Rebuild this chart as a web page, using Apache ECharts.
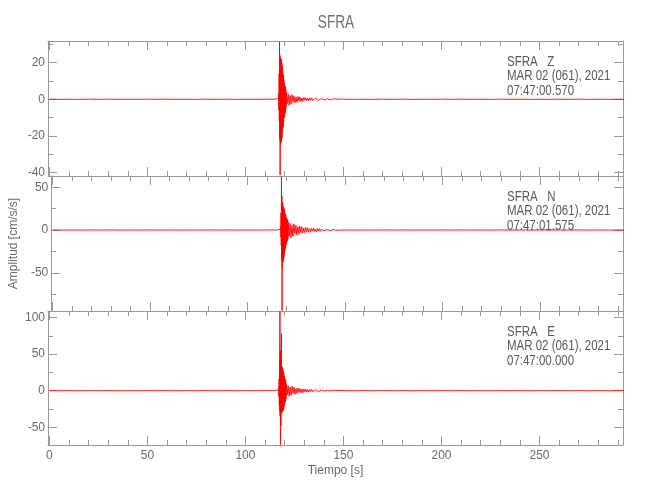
<!DOCTYPE html>
<html><head><meta charset="utf-8">
<script src="https://cdn.jsdelivr.net/npm/echarts@6/dist/echarts.min.js"></script>
<style>html,body{margin:0;padding:0;background:#fff}#c{width:650px;height:500px}</style>
</head><body><div id="c"></div>
<script>
// ---------- text ----------
const titleText = 'SFRA';
const stationName = 'SFRA';
const channels = ['Z', 'N', 'E'];
const dateText = 'MAR 02 (061), 2021';
const startTimes = ['07:47:00.570', '07:47:01.575', '07:47:00.000'];
const xAxisName = 'Tiempo [s]';
const yAxisName = 'Amplitud [cm/s/s]';

// ---------- tick labels ----------
const xMajorTicks = [0, 50, 100, 150, 200, 250];
const xMinorTicks = [10, 20, 30, 40, 60, 70, 80, 90, 110, 120, 130, 140, 160, 170, 180, 190, 210, 220, 230, 240, 260, 270, 280, 290];
const yMajorTicks = [[-40, -20, 0, 20], [-50, 0, 50], [-50, 0, 50, 100]];
const yMinorTicks = [[-30, -10, 10, 30], [-75, -25, 25], [-25, 25, 75]];
const xRange = [-0.7, 292.6];
const yRanges = [[-42, 31.9], [-94.6, 63.1], [-74.3, 109]];

// ---------- waveform samples (start time, sample step, values) ----------
const preStart = 0, preStep = 5;
const burstStart = 116.8, burstStep = 0.1;
const codaStart = 120.8, codaStep = 0.5;
const postStart = 150, postStep = 5;

const zPre = [0.05, -0.04, 0.03, -0.05, 0.04, -0.03, 0.05, -0.05, 0.03, -0.04, 0.05, -0.03, 0.04, -0.05, 0.03, -0.04, 0.05, -0.03, 0.04, -0.05, 0.03, -0.04, 0.05, -0.03];
const zBurst = [0.5, -1, 3, -6, 14, -12, 31.5, -22, 24, -41.5, 23, -25, 22, -24, 22, -23, 21, -22, 20, -21, 18, -17, 16, -16, 14, -15, 13, -12, 11, -10, 9, -9.5, 8, -8, 7, -7.5, 6.5, -6, 5.5, -5];
const zCoda = [3.8, -2.6, 3.1, -3.4, 2.2, -2.7, 2.5, -1.6, 1.9, -2.1, 1.2, -1.7, 1.5, -0.9, 1.3, -1.2, 0.7, -1.1, 1, -0.6, 0.9, -0.8, 0.5, -0.9, 0.7, -0.5, 0.8, -0.6, 0.4, -0.7, 0.6, -0.4, 0.5, -0.6, 0.3, -0.5, 0.5, -0.3, 0.4, -0.4, 0.2, -0.4, 0.3, -0.2, 0.3, -0.3, 0.2, -0.2, 0.2, -0.1];
const zPost = [0.04, -0.05, 0.03, -0.04, 0.05, -0.03, 0.04, -0.05, 0.03, -0.04, 0.05, -0.03, 0.04, -0.05, 0.03, -0.04, 0.05, -0.03, 0.04, -0.05, 0.03, -0.04, 0.05, -0.03, 0.04, -0.05, 0.03, -0.04, 0.03, -0.03];

const nPre = [0.1, -0.08, 0.06, -0.1, 0.08, -0.06, 0.1, -0.1, 0.06, -0.08, 0.1, -0.06, 0.08, -0.1, 0.06, -0.08, 0.1, -0.06, 0.08, -0.1, 0.06, -0.08, 0.1, -0.06];
const nBurst = [0.8, -1.5, 4, -8, 20, -18, 62.5, -35, 40, -94, 32, -45, 30, -38, 28, -36, 27, -34, 26, -32, 24, -28, 22, -25, 20, -22, 18, -20, 16, -18, 15, -16, 14, -14, 13, -13, 12, -12, 11, -11];
const nCoda = [9.5, -7, 8, -9, 6, -7.5, 7, -4.5, 5.5, -6, 3.8, -5, 4.4, -3, 4, -3.6, 2.4, -3.4, 3, -2, 2.8, -2.5, 1.6, -2.6, 2.2, -1.5, 2.3, -1.8, 1.2, -2, 1.7, -1.1, 1.5, -1.6, 0.9, -1.4, 1.3, -0.8, 1.1, -1.1, 0.6, -1, 0.8, -0.6, 0.8, -0.7, 0.5, -0.6, 0.5, -0.3];
const nPost = [0.08, -0.1, 0.06, -0.08, 0.1, -0.06, 0.08, -0.1, 0.06, -0.08, 0.1, -0.06, 0.08, -0.1, 0.06, -0.08, 0.1, -0.06, 0.08, -0.1, 0.06, -0.08, 0.1, -0.06, 0.08, -0.1, 0.06, -0.08, 0.06, -0.06];

const ePre = [0.12, -0.1, 0.08, -0.12, 0.1, -0.08, 0.12, -0.12, 0.08, -0.1, 0.12, -0.08, 0.1, -0.12, 0.08, -0.1, 0.12, -0.08, 0.1, -0.12, 0.08, -0.1, 0.12, -0.08];
const eBurst = [0.8, -1.5, 4, -8, 16, -20, 40, -28, 108.5, -35, 55, -74, 38, -48, 35, -30, 78, -28, 33, -30, 32, -29, 30, -28, 28, -27, 26, -25, 24, -22, 20, -19, 18, -17, 16, -15, 14, -13, 12, -11];
const eCoda = [8.5, -6, 7, -8, 5, -6.5, 6, -3.8, 4.6, -5, 3.2, -4.2, 3.6, -2.4, 3.2, -2.9, 1.9, -2.7, 2.4, -1.6, 2.2, -2, 1.3, -2, 1.7, -1.2, 1.8, -1.4, 1, -1.5, 1.3, -0.9, 1.2, -1.2, 0.7, -1.1, 1, -0.6, 0.8, -0.8, 0.5, -0.8, 0.6, -0.5, 0.6, -0.5, 0.4, -0.5, 0.4, -0.3];
const ePost = [0.1, -0.12, 0.08, -0.1, 0.12, -0.08, 0.1, -0.12, 0.08, -0.1, 0.12, -0.08, 0.1, -0.12, 0.08, -0.1, 0.12, -0.08, 0.1, -0.12, 0.08, -0.1, 0.12, -0.08, 0.1, -0.12, 0.08, -0.1, 0.08, -0.08];

const traces = [
  [zPre, zBurst, zCoda, zPost],
  [nPre, nBurst, nCoda, nPost],
  [ePre, eBurst, eCoda, ePost]
];

// ---------- build ----------
function seg(start, step, vals) { return vals.map((v, i) => [+(start + i * step).toFixed(3), v]); }
function traceData(t) {
  return [].concat(seg(preStart, preStep, t[0]), seg(burstStart, burstStep, t[1]),
                   seg(codaStart, codaStep, t[2]), seg(postStart, postStep, t[3]));
}

const AX = '#9a9a9a', TX = '#6a6a6a';
const FONT = "'Liberation Sans', Arial, sans-serif";
const gridTops = [41, 176, 311], gridHeights = [135, 135, 134];
const grids = gridTops.map((t, i) => ({ left: 48, width: 575, top: t, height: gridHeights[i], containLabel: false }));

const xAxes = [], yAxes = [], series = [], graphics = [];
function mkAxis(kind, g, pos, range, ticks, len, labels, line, extra) {
  return Object.assign({
    type: 'value', gridIndex: g, position: pos, min: range[0], max: range[1],
    axisLine: { show: line, onZero: false, lineStyle: { color: AX, width: 1 } },
    axisTick: { show: true, inside: true, length: len, customValues: ticks, lineStyle: { color: AX, width: 1 } },
    axisLabel: labels ? { show: true, customValues: ticks, color: TX, fontFamily: FONT, fontSize: 12,
                          margin: kind === 'x' ? 5 : 3 } : { show: false },
    splitLine: { show: false }, minorTick: { show: false }, minorSplitLine: { show: false }
  }, extra || {});
}

for (let g = 0; g < 3; g++) {
  const xi = xAxes.length;
  const isLast = g === 2;
  xAxes.push(mkAxis('x', g, 'bottom', xRange, xMajorTicks, 9, isLast, true, isLast ? {
    name: xAxisName, nameLocation: 'middle', nameGap: 20,
    nameTextStyle: { color: TX, fontFamily: FONT, fontSize: 12 }
  } : {}));
  xAxes.push(mkAxis('x', g, 'bottom', xRange, xMinorTicks, 5, false, false));
  xAxes.push(mkAxis('x', g, 'top', xRange, xMajorTicks, 9, false, true));
  xAxes.push(mkAxis('x', g, 'top', xRange, xMinorTicks, 5, false, false));

  const yi = yAxes.length;
  yAxes.push(mkAxis('y', g, 'left', yRanges[g], yMajorTicks[g], 9, true, true, g === 1 ? {
    name: yAxisName, nameLocation: 'middle', nameGap: 18, nameRotate: 90,
    nameTextStyle: { color: TX, fontFamily: FONT, fontSize: 12 }
  } : {}));
  yAxes.push(mkAxis('y', g, 'left', yRanges[g], yMinorTicks[g], 5, false, false));
  yAxes.push(mkAxis('y', g, 'right', yRanges[g], yMajorTicks[g], 9, false, true));
  yAxes.push(mkAxis('y', g, 'right', yRanges[g], yMinorTicks[g], 5, false, false));

  series.push({
    type: 'line', xAxisIndex: xi, yAxisIndex: yi, data: traceData(traces[g]),
    showSymbol: false, symbol: 'none', sampling: 'none', animation: false, clip: true,
    lineStyle: { color: '#ff0000', width: 0.9 }
  });

  const lines = [stationName + '   ' + channels[g], dateText, startTimes[g]];
  const offs = [21, 35.5, 50];
  lines.forEach((txt, k) => graphics.push({
    type: 'text', x: 507, y: gridTops[g] + offs[k], scaleX: 0.82, silent: true,
    style: { text: txt, x: 0, y: 0, fill: '#5a5a5a', font: '14px ' + FONT, verticalAlign: 'middle', align: 'left' }
  }));
}

graphics.push({
  type: 'text', x: 336, y: 23, scaleX: 0.72, silent: true,
  style: { text: titleText, x: 0, y: 0, fill: '#707070', font: '19px ' + FONT, verticalAlign: 'middle', align: 'center' }
});

const chart = echarts.init(document.getElementById('c'), null, { renderer: 'canvas' });
chart.setOption({
  animation: false,
  backgroundColor: '#fff',
  grid: grids, xAxis: xAxes, yAxis: yAxes, series: series, graphic: graphics
});
</script>
</body></html>
